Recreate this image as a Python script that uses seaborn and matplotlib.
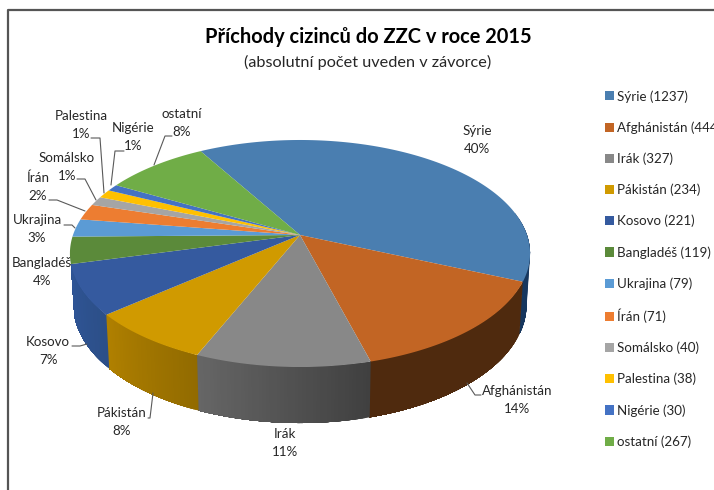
import numpy as np
import matplotlib
matplotlib.use('Agg')
import matplotlib.pyplot as plt
from matplotlib.patches import Patch
from matplotlib.colors import to_rgb
import seaborn as sns

# Data
countries = ['Sýrie', 'Afghánistán', 'Irák', 'Pákistán', 'Kosovo', 'Bangladéš',
             'Ukrajina', 'Írán', 'Somálsko', 'Palestina', 'Nigérie', 'ostatní']
counts = [1237, 444, 327, 234, 221, 119, 79, 71, 40, 38, 30, 267]
percent_labels = ['40%', '14%', '11%', '8%', '7%', '4%', '3%', '2%', '1%', '1%', '1%', '8%']

# Styles
top_colors = ['#4a7eb0', '#c26524', '#888888', '#d09a00', '#355a9f', '#5b8a3a',
              '#5b9bd5', '#ed7d31', '#a5a5a5', '#ffc000', '#4472c4', '#70ad47']
# only the front slices show a wall
wall_left = ['#17375e', '#4f2a0e', '#666666', '#b08000', '#2f5597']
wall_right = ['#17375e', '#4f2a0e', '#404040', '#926b00', '#2c4f88']

sns.set_theme(style='white')
plt.rcParams['font.family'] = ['Lato', 'DejaVu Sans']

# perspective of the disc, in pixels
cx, cy = 300, 235
radius, tilt, persp = 227, 110.5, 0.163
start_angle = 120


def top_xy(t):
    u, v = np.cos(t), np.sin(t)
    d = 1 + persp * v
    return cx + radius * u / d, cy - tilt * v / d


def bottom_xy(t):
    x, y = top_xy(t)
    return cx + (x - cx) * 0.985, y + 50 - 6 * np.sin(t)


fig = plt.figure(figsize=(7.14, 4.9), dpi=100)
ax = fig.add_axes([0, 0, 1, 1])
ax.set_xlim(0, 714)
ax.set_ylim(490, 0)
ax.axis('off')

# slice boundaries, clockwise from start_angle
shares = np.array(counts) / sum(counts)
edges = np.radians(start_angle - 360 * np.concatenate([[0], np.cumsum(shares)]))

# side wall, each quad reaches to the slice end so later ones paint over the seams
for i in range(len(wall_left)):
    ts = np.linspace(edges[i], edges[i + 1], 50)
    ts = ts[np.sin(ts) < 0.25]
    c_r, c_l = np.array(to_rgb(wall_right[i])), np.array(to_rgb(wall_left[i]))
    for j in range(len(ts) - 1):
        f = j / (len(ts) - 2)
        arc = ts[j:]
        xt, yt = top_xy(arc)
        xb, yb = bottom_xy(arc)
        ax.fill(np.r_[xt, xb[::-1]], np.r_[yt, yb[::-1]], color=c_r * (1 - f) + c_l * f, lw=0)

# top face
for i in range(len(counts)):
    ts = np.linspace(edges[i], edges[i + 1], 120)
    xs, ys = top_xy(ts)
    ax.fill(np.r_[cx, xs], np.r_[cy, ys], color=top_colors[i], lw=0)

# data labels
label_pos = [(477, 131), (517, 391), (285, 434), (122, 413), (48, 342), (42, 263),
             (37, 220), (38, 178), (67, 158), (81, 116), (133, 128), (182, 114)]
for name, pct, (lx, ly) in zip(countries, percent_labels, label_pos):
    ax.text(lx, ly, name, ha='center', va='center', fontsize=9.6, color='#262626')
    ax.text(lx, ly + 18, pct, ha='center', va='center', fontsize=9.6, color='#262626')

# leader lines
leaders = [
    ([172, 165, 154], [136, 136, 165]),
    ([124, 115, 111], [151, 151, 185]),
    ([91, 100, 104], [138, 138, 193]),
    ([77, 85, 96], [179, 179, 200]),
    ([49, 57, 85], [200, 200, 211]),
    ([64, 72, 75], [225, 225, 228]),
    ([72, 80, 87], [346, 346, 344]),
    ([148, 150, 153], [418, 418, 393]),
    ([481, 475, 467], [395, 395, 383]),
]
for xs, ys in leaders:
    ax.plot(xs, ys, color='#595959', lw=0.8)

# titles
ax.text(368, 37, 'Příchody cizinců do ZZC v roce 2015', ha='center', va='center',
        fontsize=14.4, fontweight='bold', color='black')
ax.text(368, 62, '(absolutní počet uveden v závorce)', ha='center', va='center',
        fontsize=11.7, color='#262626')

# legend
handles = [Patch(facecolor=c, edgecolor='none', label=f'{n} ({v})')
           for c, n, v in zip(top_colors, countries, counts)]
ax.legend(handles=handles, loc='upper left', bbox_to_anchor=(605 / 714, 1 - 90 / 490),
          bbox_transform=fig.transFigure, frameon=False, fontsize=9.6, borderaxespad=0,
          borderpad=0, handlelength=0.68, handleheight=0.68, handletextpad=0.22,
          labelspacing=1.4)

# chart frame
ax.plot([8, 8, 714], [490, 10, 10], color='#555555', lw=1.6, clip_on=False)

fig.savefig('out.png', dpi=100)
